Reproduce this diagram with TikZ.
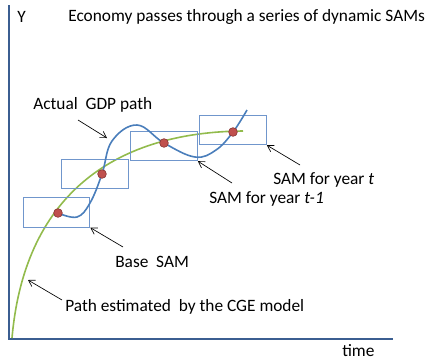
\documentclass[tikz,border=0pt]{standalone}
\usepackage{fontspec}
\setmainfont{Carlito}
\usetikzlibrary{arrows.meta,positioning}
\definecolor{axisblue}{HTML}{3B5E91}
\definecolor{gdpblue}{HTML}{4A7EBB}
\definecolor{boxblue}{HTML}{7096CC}
\definecolor{cgegreen}{HTML}{92BB4C}
\definecolor{dotred}{HTML}{C0504D}
\definecolor{dotrim}{HTML}{8C3836}
\tikzset{
  sambox/.style={draw=boxblue, line width=0.8pt, minimum width=50pt, minimum height=22pt, inner sep=0pt},
  samdot/.style={circle, fill=dotred, draw=dotrim, line width=0.5pt, minimum size=6.5pt, inner sep=0pt},
  pointer/.style={-{Straight Barb[length=4.5pt,width=5.5pt]}, line width=0.5pt},
  lbl/.style={anchor=west, inner sep=0pt}
}
\begin{document}
\begin{tikzpicture}[x=0.75pt, y=-0.75pt, font=\fontsize{13}{15}\selectfont]
  \useasboundingbox (0,0) rectangle (427,361);
  % axes
  \draw[axisblue, line width=1.4pt] (9,5) -- (9,339) -- (393,339);
  \node[lbl] (ylab) at (17,17) {Y};
  \node[lbl] (title) at (68,17) {Economy passes through a series of dynamic SAMs};
  \node[lbl] (tlab) at (342,350.5) {time};

  % path estimated by the model
  \draw[cgegreen, line width=1.2pt] (12,338) .. controls (25,190) and (120,132) .. (243,131);

  % the SAM boxes
  \node[sambox] (s1) at (56.5,212.5) {};
  \node[sambox] (s2) at (95,174) {};
  \node[sambox] (s3) at (164,146) {};
  \node[sambox] (s4) at (233,130) {};

  % actual path
  \draw[gdpblue, line width=1.2pt] plot[smooth, tension=0.65] coordinates
    {(58,213) (77,217) (90,203) (102,174) (112,141) (137,125) (164,143) (195,157) (216,150) (233,132) (247,110)};

  \node[samdot] (d1) at (58,213) {};
  \node[samdot] (d2) at (102,174) {};
  \node[samdot] (d3) at (164,143) {};
  \node[samdot] (d4) at (233,132) {};

  % labels
  \node[lbl] (gdp) at (33,105) {Actual\ \ GDP path};
  \node[lbl] (samt) at (273,180) {SAM for year \textit{t}};
  \node[lbl] (samt1) at (209,199) {SAM for year \textit{t-1}};
  \node[lbl] (base) at (115,262) {Base\ \ SAM};
  \node[lbl] (cge) at (65,307) {Path estimated\ \ by the CGE model};

  % pointers
  \coordinate (gdptail) at (78,120);
  \coordinate (gdphead) at (107,138);
  \coordinate (samttail) at (300,165);
  \coordinate (samt1tail) at (232,183);
  \coordinate (basetail) at (123,247);
  \coordinate (cgetail) at (62,300);
  \coordinate (cgehead) at (28,280);
  \draw[pointer] (gdptail) -- (gdphead);
  \draw[pointer] (samttail) -- (s4.south east);
  \draw[pointer] (samt1tail) -- (s3.south east);
  \draw[pointer] (basetail) -- (s1.south east);
  \draw[pointer] (cgetail) -- (cgehead);
\end{tikzpicture}
\end{document}
